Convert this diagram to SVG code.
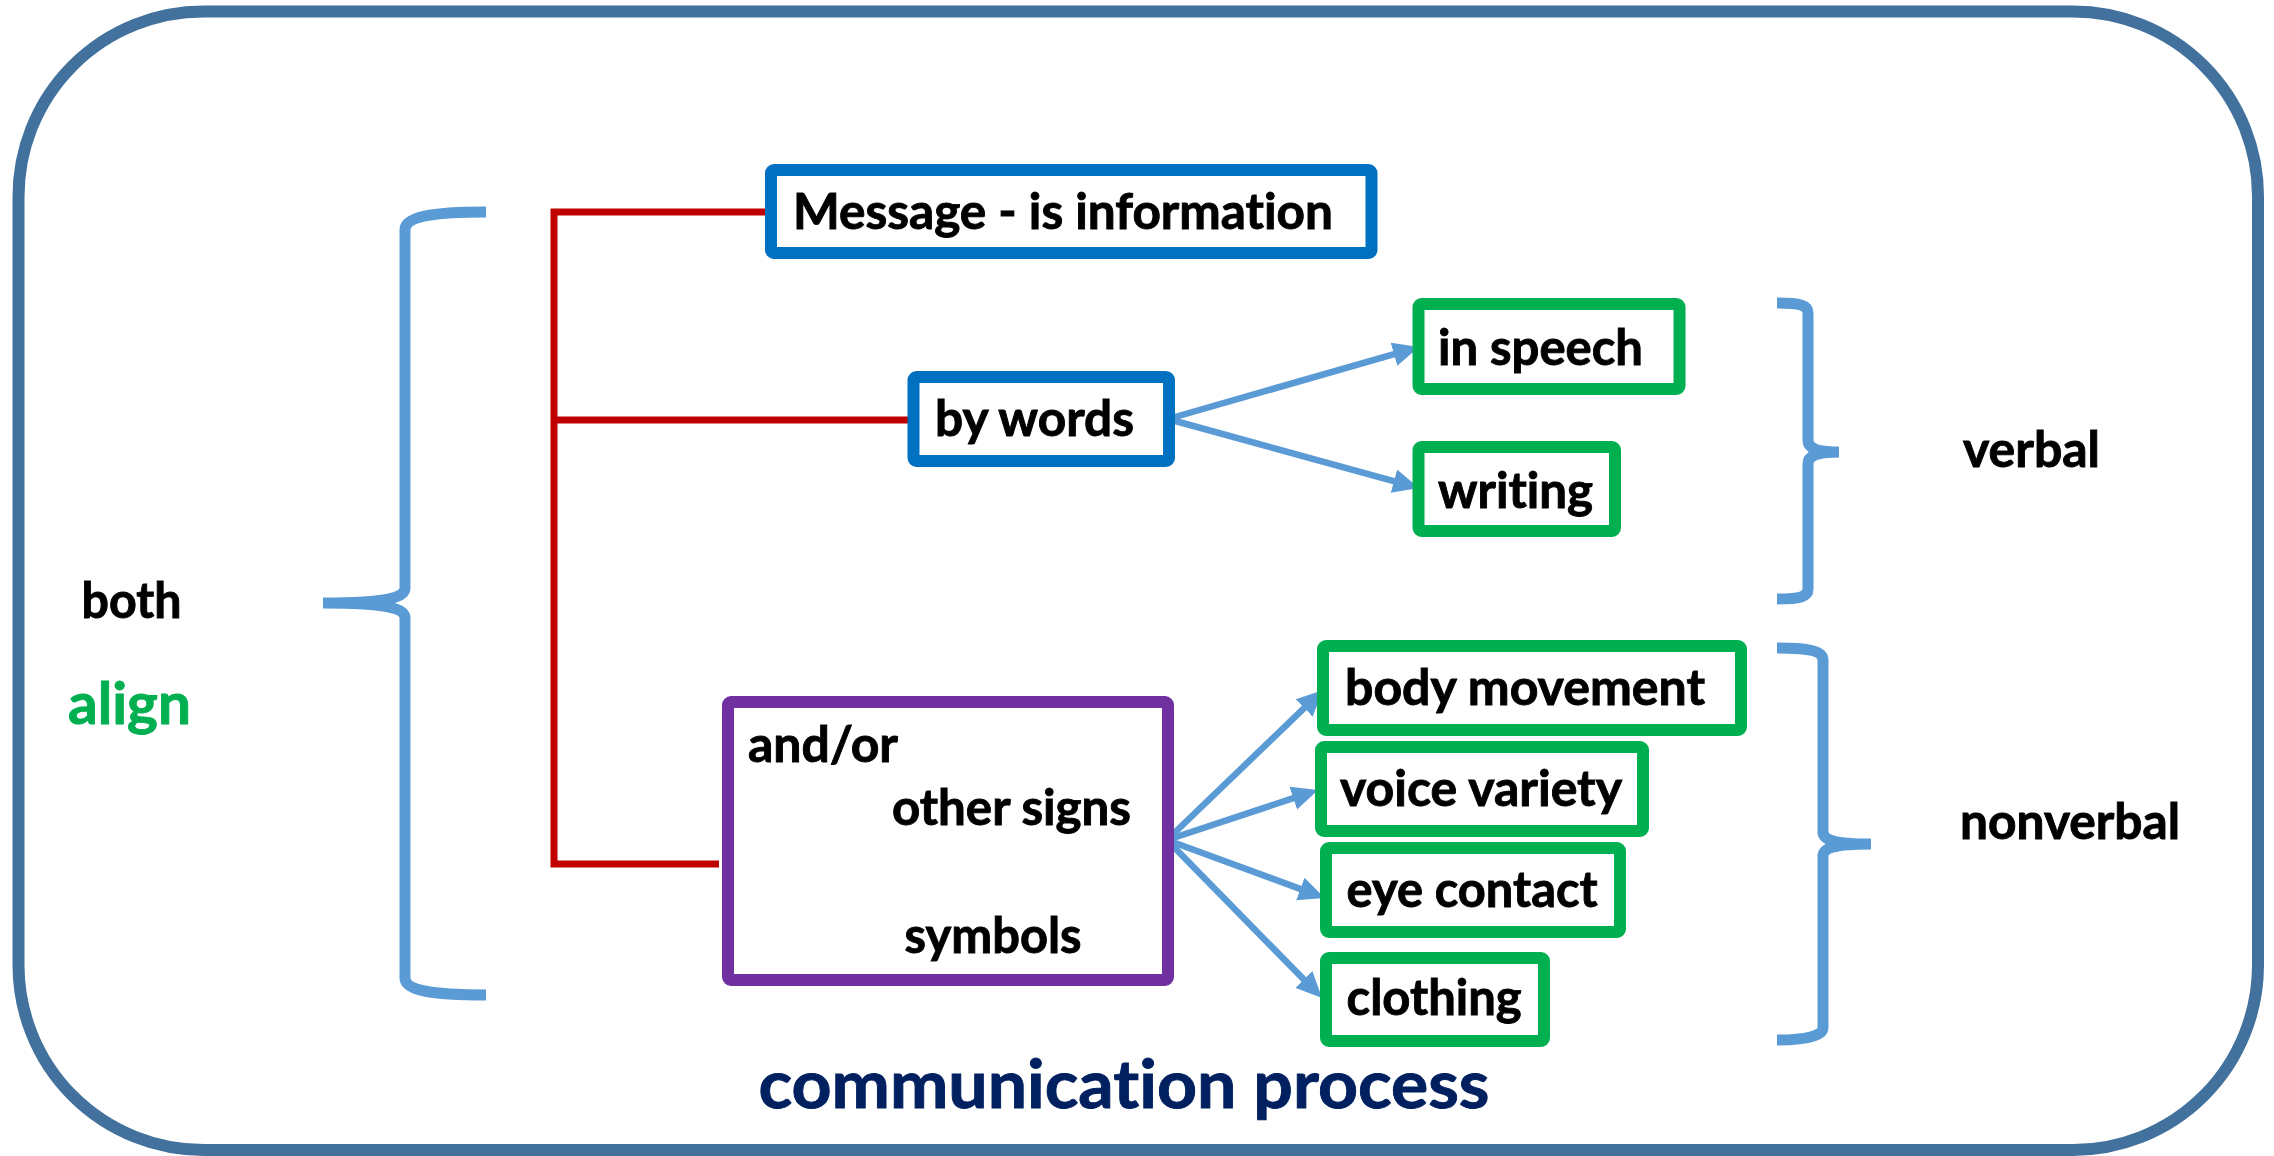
<svg xmlns="http://www.w3.org/2000/svg" width="2274" height="1156" viewBox="0 0 2274 1156">
<style>
.t{font-family:Lato,"Open Sans","Liberation Sans",sans-serif;font-weight:bold;font-size:49px;fill:#000;stroke:#000;stroke-width:0.9;font-variant-ligatures:none;font-feature-settings:"liga" 0,"clig" 0}
.box{fill:#fff;stroke-width:12}
.blue{stroke:#0070C0}
.green{stroke:#00B050}
.purple{stroke:#7030A0}
.red{stroke:#C00000;stroke-width:7;fill:none}
.brace{fill:none;stroke:#5B9BD5;stroke-width:11}
.arr{stroke:#5B9BD5;stroke-width:6.5;fill:none;marker-end:url(#ah)}
</style>
<defs>
<marker id="ah" markerUnits="userSpaceOnUse" markerWidth="28" markerHeight="26" refX="12" refY="12" orient="auto" viewBox="0 0 28 26">
<path d="M0,0 L26,12 L0,24 Z" fill="#5B9BD5"/>
</marker>
</defs>
<rect width="2274" height="1156" fill="#fff"/>
<g id="frame">
<rect x="18.5" y="11.5" width="2239.5" height="1138.5" rx="185" ry="185" fill="none" stroke="#41719C" stroke-width="12"/>
</g>
<g id="connectors">
<path class="red" d="M554,212 L770,212 M554,208.5 L554,867.5 M554,420 L913,420 M554,864 L719,864"/>
<line class="arr" x1="1168" y1="419" x2="1405.5" y2="350.9"/>
<line class="arr" x1="1168" y1="419" x2="1405.5" y2="484.3"/>
<line class="arr" x1="1167" y1="840" x2="1312.9" y2="699.7"/>
<line class="arr" x1="1167" y1="840" x2="1304.7" y2="794.4"/>
<line class="arr" x1="1167" y1="840" x2="1311.6" y2="893.1"/>
<line class="arr" x1="1167" y1="840" x2="1312.2" y2="988"/>
</g>
<g id="brace-both">
<path class="brace" d="M486,212 C430,212 405,217 405,230 L405,588 C405,597 390,603 323,603 C390,603 405,609 405,618 L405,978 C405,990 430,995 486,995"/>
</g>
<g id="brace-verbal">
<path class="brace" d="M1777,303 C1800,303 1808,305 1808,313 L1808,440 C1808,448 1815,452 1839,452 C1815,452 1808,456 1808,464 L1808,589 C1808,597 1800,599 1777,599"/>
</g>
<g id="brace-nonverbal">
<path class="brace" d="M1777,648 C1805,648 1823,650 1823,660 L1823,832 C1823,840 1835,844 1871,844 C1835,844 1823,848 1823,856 L1823,1028 C1823,1036 1805,1040 1777,1040"/>
</g>
<g id="node-message">
<rect class="box blue" x="771" y="170" width="600.5" height="83" rx="3"/>
<text class="t" x="793" y="229" textLength="540" lengthAdjust="spacingAndGlyphs">Message - is information</text>
</g>
<g id="node-bywords">
<rect class="box blue" x="913.5" y="377" width="255.5" height="84" rx="3"/>
<text class="t" x="935" y="436" textLength="199" lengthAdjust="spacingAndGlyphs">by words</text>
</g>
<g id="node-speech">
<rect class="box green" x="1418.5" y="304" width="261" height="85" rx="3"/>
<text class="t" x="1438" y="364.6" textLength="205" lengthAdjust="spacingAndGlyphs">in speech</text>
</g>
<g id="node-writing">
<rect class="box green" x="1418.5" y="447" width="196.5" height="84" rx="3"/>
<text class="t" x="1438" y="507.5" textLength="155" lengthAdjust="spacingAndGlyphs">writing</text>
</g>
<g id="node-signs">
<rect class="box purple" x="728" y="702" width="440" height="278" rx="3"/>
<text class="t" x="748" y="762" textLength="150" lengthAdjust="spacingAndGlyphs">and/or</text>
<text class="t" x="892" y="825" textLength="239" lengthAdjust="spacingAndGlyphs">other signs</text>
<text class="t" x="904.6" y="953" textLength="177" lengthAdjust="spacingAndGlyphs">symbols</text>
</g>
<g id="node-body">
<rect class="box green" x="1323" y="646" width="418" height="84" rx="3"/>
<text class="t" x="1345" y="705" textLength="360" lengthAdjust="spacingAndGlyphs">body movement</text>
</g>
<g id="node-voice">
<rect class="box green" x="1321" y="747" width="322" height="84" rx="3"/>
<text class="t" x="1340" y="806" textLength="282" lengthAdjust="spacingAndGlyphs">voice variety</text>
</g>
<g id="node-eye">
<rect class="box green" x="1326" y="848" width="294" height="84" rx="3"/>
<text class="t" x="1346.6" y="907" textLength="251" lengthAdjust="spacingAndGlyphs">eye contact</text>
</g>
<g id="node-clothing">
<rect class="box green" x="1326" y="958" width="218" height="83" rx="3"/>
<text class="t" x="1346.6" y="1015" textLength="175" lengthAdjust="spacingAndGlyphs">clothing</text>
</g>
<g id="labels">
<text class="t" x="1963" y="466.6" textLength="137" lengthAdjust="spacingAndGlyphs">verbal</text>
<text class="t" x="1960" y="839" textLength="220" lengthAdjust="spacingAndGlyphs">nonverbal</text>
<text class="t" x="81.5" y="618.4" textLength="100" lengthAdjust="spacingAndGlyphs">both</text>
<text class="t" x="68" y="723.6" style="font-size:57px;fill:#00B050;stroke:#00B050" textLength="123" lengthAdjust="spacingAndGlyphs">align</text>
<text class="t" x="758.5" y="1107.7" style="font-size:67px;fill:#002060;stroke:#002060" textLength="731" lengthAdjust="spacingAndGlyphs">communication process</text>
</g>
</svg>
